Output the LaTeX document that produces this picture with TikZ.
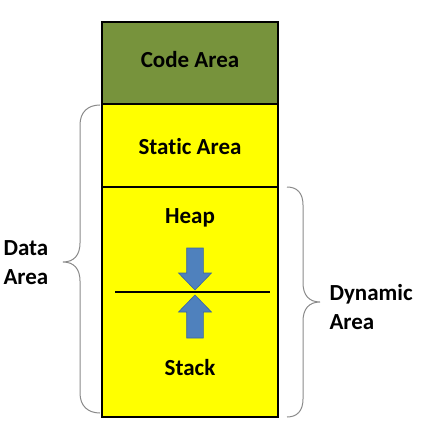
\documentclass[tikz,border=0pt]{standalone}
\usepackage{fontspec}
\setmainfont[Ligatures=NoCommon]{Carlito}
\definecolor{codegreen}{HTML}{77933C}
\definecolor{memyellow}{HTML}{FFFF00}
\definecolor{arrowfill}{HTML}{4F81BD}
\definecolor{arrowline}{HTML}{3A66A0}
\definecolor{bracegray}{HTML}{8A8A8A}
\begin{document}
\begin{tikzpicture}[x=1pt,y=-1pt,
  region/.style={draw=black,line width=1.4pt},
  lbl/.style={font=\bfseries\fontsize{23}{26}\selectfont,text=black},
  side/.style={font=\bfseries\fontsize{23}{29}\selectfont,align=left,text=black,anchor=west},
  brc/.style={draw=bracegray,line width=1pt},
  memarrow/.style={draw=arrowline,fill=arrowfill,line width=0.6pt,line join=miter}]
\useasboundingbox (0,0) rectangle (422,430);
% memory regions
\fill[codegreen] (102,22) rectangle (278,104);
\fill[memyellow] (102,104) rectangle (278,417);
\draw[region] (102,104) -- (278,104);
\draw[region] (102,187) -- (278,187);
\draw[region] (102,22) rectangle (278,417);
\node[lbl] (code) at (190,60) {Code Area};
\node[lbl] (static) at (190,147) {Static Area};
\node[lbl] (heap) at (190,218) {Heap};
\node[lbl] (stack) at (190,368) {Stack};
% heap / stack boundary
\coordinate (bl) at (115,292);
\coordinate (br) at (270,292);
\draw[line width=1.4pt] (bl) -- (br);
% heap grows down, stack grows up
\draw[memarrow] (186.7,248) -- (203.3,248) -- (203.3,273) -- (211.5,273) -- (195,290)
  -- (178.5,273) -- (186.7,273) -- cycle;
\draw[memarrow] (186.7,338) -- (203.3,338) -- (203.3,312) -- (211.5,312) -- (195,295)
  -- (178.5,312) -- (186.7,312) -- cycle;
% braces
\draw[brc] (100,105) .. controls (88,105) and (80,112) .. (80,125) -- (80,243)
  .. controls (80,255) and (74,262) .. (63,262)
  .. controls (74,262) and (80,269) .. (80,281) -- (80,393)
  .. controls (80,406) and (88,413) .. (100,413);
\draw[brc] (287,187) .. controls (297,187) and (303,193) .. (303,205) -- (303,283)
  .. controls (303,295) and (309,302) .. (320,302)
  .. controls (309,302) and (303,309) .. (303,321) -- (303,399)
  .. controls (303,411) and (297,417) .. (287,417);
\node[side] (data) at (0,263) {Data\\Area};
\node[side] (dyn) at (326,307) {Dynamic\\Area};
\end{tikzpicture}
\end{document}
